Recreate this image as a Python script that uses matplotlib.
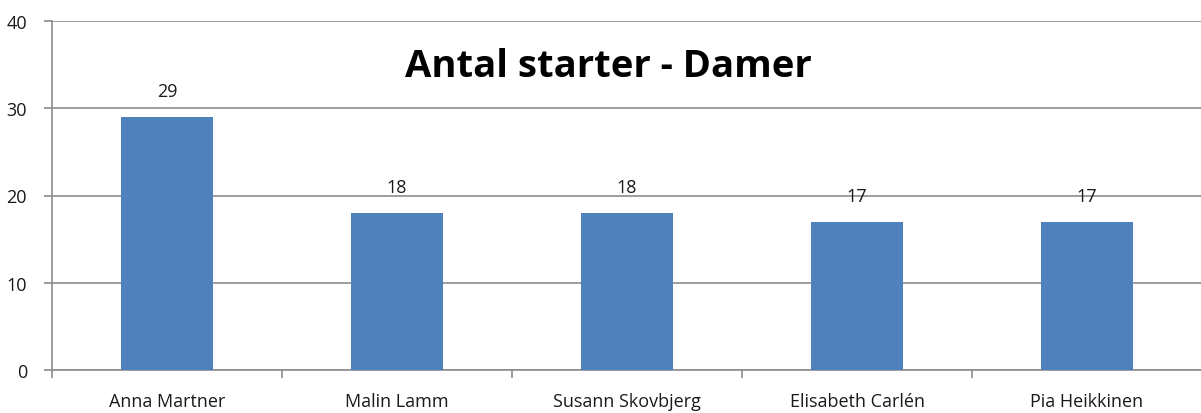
import matplotlib
matplotlib.use("Agg")
import matplotlib.pyplot as plt
import numpy as np

categories = ["Anna Martner", "Malin Lamm", "Susann Skovbjerg", "Elisabeth Carlén", "Pia Heikkinen"]
values = [29, 18, 18, 17, 17]
title = "Antal starter - Damer"
yticks = [0, 10, 20, 30, 40]

plt.rcParams['font.family'] = ['Open Sans', 'DejaVu Sans']

W, H = 1201, 414
fig = plt.figure(figsize=(W / 100, H / 100), dpi=100)
ax = fig.add_axes([52 / W, (H - 371) / H, 1150 / W, 349 / H])

x = np.arange(len(categories))
bars = ax.bar(x, values, width=0.4, color="#4F81BD", zorder=3)
ax.set_xlim(-0.5, len(categories) - 0.5)
ax.set_ylim(0, 40)
ax.set_yticks(yticks)
ax.yaxis.grid(True, color="#8C8C8C", linewidth=1.2, zorder=0)

for xi, v in zip(x, values):
    ax.annotate(str(v), (xi, v), xytext=(0, 21), textcoords="offset pixels",
                ha="center", va="baseline", fontsize=13, color="#1a1a1a")

ax.set_xticks(x)
ax.set_xticklabels(categories, fontsize=13, color="#1a1a1a")
ax.tick_params(axis="x", length=0, pad=16)
ax.set_xticks(np.arange(-0.5, len(categories)), minor=True)
ax.tick_params(axis="x", which="minor", length=6, color="#8C8C8C", width=1.2)
ax.tick_params(axis="y", length=6, color="#8C8C8C", width=1.2, labelsize=13,
               labelcolor="#1a1a1a", pad=12)

for s in ["top", "right"]:
    ax.spines[s].set_visible(False)
for s in ["left", "bottom"]:
    ax.spines[s].set_color("#8C8C8C")
    ax.spines[s].set_linewidth(1.2)

fig.text(608 / W, 1 - 77 / H, title, ha="center", va="baseline", fontsize=27.5,
         fontweight="bold", color="black")

fig.savefig("out.png", dpi=100)
